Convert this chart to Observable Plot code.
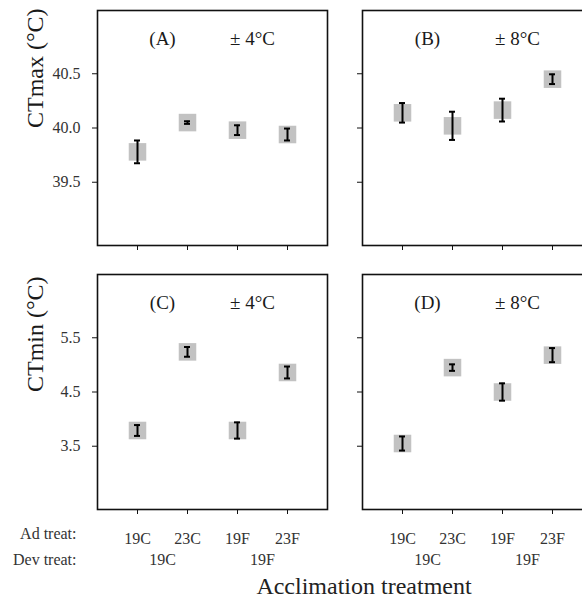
<!DOCTYPE html>
<html><head><meta charset="utf-8">
<script src="https://cdn.jsdelivr.net/npm/d3@7"></script>
<script src="https://cdn.jsdelivr.net/npm/@observablehq/plot@0.6"></script>
<style>
html,body{margin:0;padding:0;background:#fff;overflow:hidden;}
#chart{position:relative;width:582px;height:599px;overflow:hidden;background:#fff;font-family:"Liberation Serif","Times New Roman",serif;}
#chart > svg{position:absolute;}
#xtitle{position:absolute;left:0;width:728px;top:572px;text-align:center;font-size:24px;line-height:28px;color:#222;}
</style></head><body><div id="chart"><div id="xtitle">Acclimation treatment</div></div>
<script>
const adTreat = ["19C","23C","19F","23F"];
const devTreat = ["19C","19C","19F","19F"];
const ctmax4 = [39.78, 40.05, 39.98, 39.94];
const ctmax4se = [0.105, 0.012, 0.045, 0.055];
const ctmax8 = [40.14, 40.02, 40.165, 40.45];
const ctmax8se = [0.09, 0.13, 0.105, 0.045];
const ctmin4 = [3.79, 5.24, 3.79, 4.86];
const ctmin4se = [0.10, 0.09, 0.15, 0.11];
const ctmin8 = [3.55, 4.95, 4.50, 5.18];
const ctmin8se = [0.13, 0.06, 0.16, 0.13];
const panelLetters = ["(A)","(B)","(C)","(D)"];
const amplitudes = ["± 4°C","± 8°C"];
const rowLabels = ["Ad treat:","Dev treat:"];
const yTitles = ["CTmax (°C)","CTmin (°C)"];
const ctmaxTicks = [39.5, 40.0, 40.5];
const ctminTicks = [3.5, 4.5, 5.5];
const ctmaxDomain = [38.917, 41.083];
const ctminDomain = [2.333, 6.667];

const positions = adTreat.map((d, i) => i + 1);
const devGroups = Array.from(d3.group(positions, i => devTreat[i - 1]), ([label, ps]) => ({label, pos: d3.mean(ps)}));

function makePanel(o) {
  const rows = positions.map((p, i) => ({i: p, ad: adTreat[i], dev: devTreat[i], v: o.values[i], se: o.se[i]}));
  const marks = [
    Plot.axisY(o.yTicks, {tickSize: 5, tickFormat: () => "", label: null, stroke: "#111"}),
    Plot.axisX(positions, {tickSize: 5, tickPadding: 18, tickFormat: o.xLabels ? (i => adTreat[i - 1]) : () => "", label: null, fontSize: 16, stroke: "#111", fill: "#333"}),
    Plot.dot(rows, {x: "i", y: "v", symbol: "square", r: 9.9, fill: "#c2c2c2"}),
    Plot.ruleX(rows, {x: "i", y1: d => d.v - d.se, y2: d => d.v + d.se, stroke: "#000", strokeWidth: 2}),
    Plot.ruleY(rows, {y: d => d.v - d.se, x1: "i", x2: "i", insetLeft: -3, insetRight: -3, stroke: "#000", strokeWidth: 2}),
    Plot.ruleY(rows, {y: d => d.v + d.se, x1: "i", x2: "i", insetLeft: -3, insetRight: -3, stroke: "#000", strokeWidth: 2}),
    Plot.text([o.letter], {x: 1.5, frameAnchor: "top", dy: 21, fontSize: 19, text: d => d, fill: "#1a1a1a"}),
    Plot.text([o.amp], {x: 3.3, frameAnchor: "top", dy: 21, fontSize: 19, text: d => d, fill: "#1a1a1a"}),
    Plot.frame({stroke: "#111", strokeWidth: 1.6})
  ];
  if (o.yLabels) marks.push(Plot.text(o.yTicks, {y: d => d, frameAnchor: "left", dx: -17, textAnchor: "end", fontSize: 16, text: d3.format(".1f"), fill: "#333"}));
  if (o.yTitle) marks.push(Plot.text([o.yTitle], {frameAnchor: "left", rotate: -90, dx: -62, fontSize: 24, text: d => d, fill: "#1a1a1a"}));
  if (o.xLabels) {
    marks.push(Plot.text(devGroups, {x: "pos", text: "label", frameAnchor: "bottom", dy: 55, fontSize: 16, fill: "#333"}));
  }
  if (o.rowLabels) {
    marks.push(Plot.text([rowLabels[0]], {frameAnchor: "bottom-left", dx: -21, dy: 29, textAnchor: "end", fontSize: 16, text: d => d, fill: "#333"}));
    marks.push(Plot.text([rowLabels[1]], {frameAnchor: "bottom-left", dx: -21, dy: 55, textAnchor: "end", fontSize: 16, text: d => d, fill: "#333"}));
  }
  const svg = Plot.plot({
    width: o.width, height: o.height,
    marginLeft: o.marginLeft, marginRight: 3, marginTop: o.marginTop, marginBottom: o.marginBottom,
    x: {domain: [0.2, 4.8]},
    y: {domain: o.yDomain},
    style: {fontFamily: '"Liberation Serif","Times New Roman",serif', fontSize: "16px", color: "#222", background: "transparent", overflow: "visible"},
    marks
  });
  svg.style.left = o.left + "px";
  svg.style.top = o.top + "px";
  svg.style.maxWidth = "none";
  document.getElementById("chart").appendChild(svg);
}

makePanel({values: ctmax4, se: ctmax4se, letter: panelLetters[0], amp: amplitudes[0], yDomain: ctmaxDomain, yTicks: ctmaxTicks, yLabels: true, xLabels: false, yTitle: yTitles[0], left: 0, top: 0, width: 330, height: 255, marginLeft: 97, marginTop: 10, marginBottom: 10});
makePanel({values: ctmax8, se: ctmax8se, letter: panelLetters[1], amp: amplitudes[1], yDomain: ctmaxDomain, yTicks: ctmaxTicks, yLabels: false, xLabels: false, left: 330, top: 0, width: 265, height: 255, marginLeft: 32, marginTop: 10, marginBottom: 10});
makePanel({values: ctmin4, se: ctmin4se, letter: panelLetters[2], amp: amplitudes[0], yDomain: ctminDomain, yTicks: ctminTicks, yLabels: true, xLabels: true, rowLabels: true, yTitle: yTitles[1], left: 0, top: 265, width: 330, height: 334, marginLeft: 97, marginTop: 9, marginBottom: 90});
makePanel({values: ctmin8, se: ctmin8se, letter: panelLetters[3], amp: amplitudes[1], yDomain: ctminDomain, yTicks: ctminTicks, yLabels: false, xLabels: true, left: 330, top: 265, width: 265, height: 334, marginLeft: 32, marginTop: 9, marginBottom: 90});
</script></body></html>
